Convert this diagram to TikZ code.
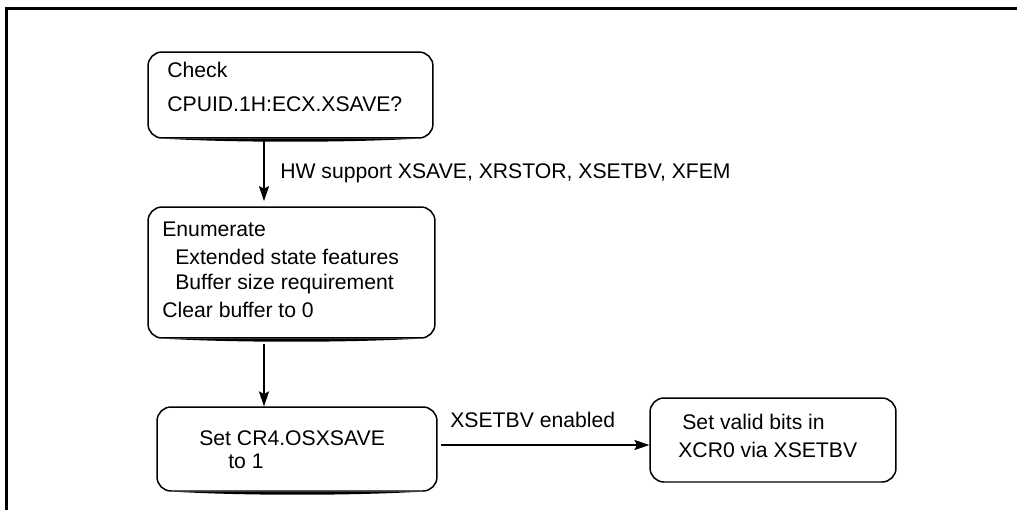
\documentclass[tikz,border=0pt]{standalone}
\usepackage{fontspec}
\setmainfont{Liberation Sans}
\usetikzlibrary{arrows.meta, positioning, calc}

\tikzset{
  stepbox/.style={draw, rounded corners=8pt, line width=0.85pt, inner sep=0pt},
  flowline/.style={->, line width=0.6pt},
  txt/.style={anchor=base west, inner sep=0pt, font=\fontsize{12.05}{14}\selectfont},
}
% thick brush stroke under a box
\newcommand{\brushunder}[1]{%
  \fill ($(#1.south west)+(18,0)$) -- ($(#1.south east)+(-18,0)$)
    .. controls ($(#1.south east)+(-90,4)$) and ($(#1.south west)+(90,4)$) .. cycle;}

\begin{document}
\begin{tikzpicture}[x=0.02cm, y=-0.02cm, >={Stealth[length=8.5pt, width=5.8pt, inset=1.5pt]}]
    \useasboundingbox (0,0) rectangle (1017,510);
    % frame
    \draw[line width=1.6pt] (6.5,510) -- (6.5,8.5) -- (1017,8.5);

    % boxes
    \node[stepbox, minimum width=5.70cm, minimum height=1.72cm] (check) at (290.5,95) {};
    \node[stepbox, minimum width=5.74cm, minimum height=2.62cm] (enum) at (291.5,272.5) {};
    \node[stepbox, minimum width=5.60cm, minimum height=1.68cm] (setcr) at (297,449) {};
    \node[stepbox, minimum width=4.92cm, minimum height=1.68cm] (setxcr) at (773,440) {};
    \brushunder{check}
    \brushunder{enum}
    \brushunder{setcr}

    % box texts
    \node[txt] (t1) at (167,78) {Check};
    \node[txt] (t2) at (167,112) {CPUID.1H:ECX.XSAVE?};
    \node[txt] (t3) at (162,236) {Enumerate};
    \node[txt] (t4) at (175,264) {Extended state features};
    \node[txt] (t5) at (175,289) {Buffer size requirement};
    \node[txt] (t6) at (162,317) {Clear buffer to 0};
    \node[txt] (t7) at (199,445) {Set CR4.OSXSAVE};
    \node[txt] (t8) at (228,468) {to 1};
    \node[txt] (t9) at (682,429) {Set valid bits in};
    \node[txt] (t10) at (678,457) {XCR0 via XSETBV};

    % connectors
    \coordinate (spine) at (264,0);
    \coordinate (level) at (0,445);
    \draw[flowline, shorten >=3pt] (check.south -| spine) -- (enum.north -| spine);
    \draw[flowline, shorten <=3pt] (enum.south -| spine) -- (setcr.north -| spine);
    \draw[flowline, shorten <=2pt] (setcr.east |- level) -- (setxcr.west |- level);

    % connector labels
    \node[txt] (hw) at (280,178) {HW support XSAVE, XRSTOR, XSETBV, XFEM};
    \node[txt] (xen) at (450,427) {XSETBV enabled};
\end{tikzpicture}
\end{document}
